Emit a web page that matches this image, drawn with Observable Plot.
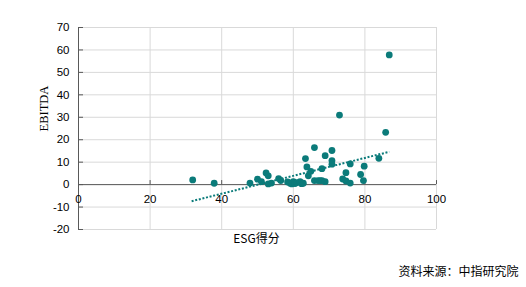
<!DOCTYPE html>
<html><head><meta charset="utf-8">
<script src="https://cdn.jsdelivr.net/npm/d3@7"></script>
<script src="https://cdn.jsdelivr.net/npm/@observablehq/plot@0.6"></script>
<style>body{margin:0;background:#fff}</style>
</head><body><div id="chart"></div>
<script>
const esg = [31.9,37.9,47.9,50.0,51.1,52.4,53.0,53.0,53.9,55.9,56.5,58.4,59.1,59.6,60.0,60.5,61.0,61.9,62.3,62.8,63.4,63.8,64.2,64.9,65.9,65.9,66.9,67.5,68.0,68.0,68.9,68.9,70.8,70.8,70.8,72.9,73.8,74.7,74.7,75.9,75.9,78.8,79.6,79.8,83.9,85.8,86.8];
const ebitda = [2.1,0.6,0.7,2.4,1.3,5.2,3.9,0.3,0.7,2.7,1.8,1.2,0.6,0.3,1.3,0.5,0.9,1.3,0.4,0.6,11.6,7.9,3.9,5.9,16.5,1.8,1.8,1.8,7.1,1.8,12.9,1.3,15.2,10.7,9.1,31.0,2.5,5.3,1.6,9.2,0.7,4.5,1.8,8.2,11.7,23.3,57.8];
const trendX = [31.6, 86.8];
const trendY = [-7.4, 14.6];
const xTicks = [0,20,40,60,80,100];
const yTicks = [-20,-10,0,10,20,30,40,50,60,70];
const xLabel = "ESG得分";
const yLabel = "EBITDA";
const source = "资料来源：中指研究院";

const pts = esg.map((x,i)=>({x, y: ebitda[i]}));
const trend = trendX.map((x,i)=>({x, y: trendY[i]}));
const teal = "#0b7b7a";
const axisCol = "#595959";

const chart = Plot.plot({
  width: 526, height: 287,
  marginLeft: 78, marginRight: 90, marginTop: 27, marginBottom: 58,
  style: {fontFamily: "'Liberation Sans', sans-serif", fontSize: "11px", color: "#000", background: "#fff"},
  x: {domain: [0,100], axis: null},
  y: {domain: [-20,70], axis: null},
  marks: [
    Plot.gridX(xTicks, {stroke: "#d9d9d9", strokeOpacity: 1}),
    Plot.gridY(yTicks, {stroke: "#d9d9d9", strokeOpacity: 1}),
    Plot.ruleX([0], {y1: -20, y2: 70, stroke: axisCol}),
    Plot.ruleY([0], {x1: 0, x2: 100, stroke: axisCol}),
    Plot.ruleY(yTicks, {x1: 0, x2: 1.4, stroke: axisCol}),
    Plot.ruleX(xTicks, {y1: 0, y2: 1.8, stroke: axisCol}),
    Plot.axisY(yTicks, {tickSize: 0, tickPadding: 9, tickFormat: d => String(d), label: null, fill: "#000", fontSize: 11.5}),
    Plot.text(xTicks, {x: d => d, y: 0, dy: 15, text: d => String(d), fill: "#000", fontSize: 11.5}),
    Plot.line(trend, {x: "x", y: "y", stroke: teal, strokeWidth: 2, strokeDasharray: "2,1.7", strokeLinecap: "butt"}),
    Plot.dot(pts, {x: "x", y: "y", r: 3.4, fill: teal, stroke: "none"}),
    Plot.text([yLabel], {frameAnchor: "left", dx: -35, dy: 3, rotate: -90, text: d => d, fontSize: 12.5, fontFamily: "'Liberation Serif', serif", fill: "#000"}),
    Plot.text([xLabel], {frameAnchor: "bottom", dx: -1, dy: 13, text: d => d, fontSize: 12, fontFamily: "'Noto Sans CJK SC', sans-serif", fill: "#000"}),
    Plot.text([source], {frameAnchor: "bottom-right", dx: 82, dy: 46, textAnchor: "end", text: d => d, fontSize: 12, fontFamily: "'Noto Sans CJK SC', sans-serif", fill: "#000"})
  ]
});
document.getElementById("chart").appendChild(chart);
</script>
</body></html>
